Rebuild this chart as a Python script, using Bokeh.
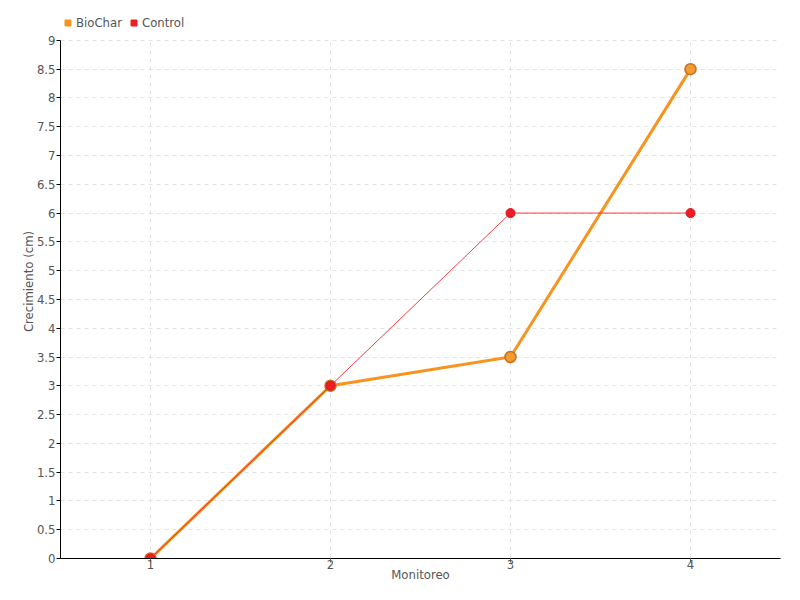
from bokeh.plotting import figure
from bokeh.models import FactorRange, Range1d, FixedTicker, Legend, LegendItem, ColumnDataSource
from bokeh.embed import file_html
from bokeh.resources import INLINE

monitoreo = ["1", "2", "3", "4"]
biochar = [0, 3, 3.5, 8.5]
control = [0, 3, 6, 6]
y_ticks = [i * 0.5 for i in range(19)]
y_tick_labels = ["0", "0.5", "1", "1.5", "2", "2.5", "3", "3.5", "4", "4.5",
                 "5", "5.5", "6", "6.5", "7", "7.5", "8", "8.5", "9"]

FONT = "'DejaVu Sans Condensed', 'Liberation Sans Narrow', sans-serif"
TXT = "#555555"
ORANGE = "#f7931e"
RED = "#ee1c25"
Y_MIN, Y_MAX = y_ticks[0], y_ticks[-1]

# extra headroom above 9 holds the legend inside the frame
p = figure(width=784, height=584, x_range=FactorRange(*monitoreo, range_padding=0),
           y_range=Range1d(Y_MIN, 9.623), output_backend="svg", toolbar_location=None,
           min_border_left=60, min_border_right=4, min_border_top=4, min_border_bottom=24)
p.outline_line_color = None
p.background_fill_color = "white"

# grids
p.xgrid.visible = False
p.ygrid.grid_line_color = "#e2e2e2"
p.ygrid.grid_line_dash = "4 4"
p.segment(x0=monitoreo, y0=[Y_MIN] * 4, x1=monitoreo, y1=[Y_MAX] * 4,
          line_color="#e2e2e2", line_dash="4 4", line_width=1)

# y axis
p.yaxis.ticker = FixedTicker(ticks=y_ticks)
p.yaxis.bounds = (Y_MIN, Y_MAX)
p.yaxis.major_label_overrides = {t: l for t, l in zip(y_ticks, y_tick_labels)}
p.yaxis.minor_tick_line_color = None
p.yaxis.major_tick_in = 0
p.yaxis.major_tick_out = 4
p.yaxis.axis_line_color = "black"
p.yaxis.major_tick_line_color = "black"
p.yaxis.major_label_text_font = FONT
p.yaxis.major_label_text_font_size = "13px"
p.yaxis.major_label_text_color = TXT
p.yaxis.major_label_standoff = 1
p.yaxis.axis_label = "Crecimiento (cm)"
p.yaxis.axis_label_text_font = FONT
p.yaxis.axis_label_text_font_style = "normal"
p.yaxis.axis_label_text_font_size = "13px"
p.yaxis.axis_label_text_color = TXT
p.yaxis.axis_label_standoff = -2

# x axis
p.xaxis.axis_line_color = "black"
p.xaxis.major_tick_line_color = "#666666"
p.xaxis.major_tick_in = 0
p.xaxis.major_tick_out = 4
p.xaxis.major_label_text_font = FONT
p.xaxis.major_label_text_font_size = "13px"
p.xaxis.major_label_text_color = TXT
p.xaxis.major_label_standoff = -3
p.xaxis.axis_label = "Monitoreo"
p.xaxis.axis_label_text_font = FONT
p.xaxis.axis_label_text_font_style = "normal"
p.xaxis.axis_label_text_font_size = "13px"
p.xaxis.axis_label_text_color = TXT
p.xaxis.axis_label_standoff = -5

src = ColumnDataSource(dict(x=monitoreo, b=biochar, c=control))

p.line("x", "b", source=src, line_color=ORANGE, line_width=3)
p.scatter("x", "b", source=src, size=11, fill_color="#f39a30", line_color="#c8701e", line_width=1.5)
p.line("x", "c", source=src, line_color=RED, line_width=1, line_alpha=0.85)
p.scatter("x", "c", source=src, size=9, fill_color=RED, line_color="#d81020", line_width=1)

# legend (square markers); dummy renderers hold no visible point
d1 = p.scatter(x=[monitoreo[0]], y=[float("nan")], marker="square", size=6,
               fill_color=ORANGE, line_color=ORANGE)
d2 = p.scatter(x=[monitoreo[0]], y=[float("nan")], marker="square", size=6,
               fill_color=RED, line_color=RED)
legend = Legend(items=[LegendItem(label="BioChar", renderers=[d1]),
                       LegendItem(label="Control", renderers=[d2])],
                location=(0, 528), orientation="horizontal",
                glyph_width=15, glyph_height=15, label_standoff=1, spacing=4,
                padding=0, margin=0, label_height=15,
                label_text_font=FONT, label_text_font_size="13px", label_text_color=TXT,
                background_fill_alpha=0, border_line_color=None)
p.add_layout(legend, "center")

open("out.html", "w").write(file_html(p, INLINE))
